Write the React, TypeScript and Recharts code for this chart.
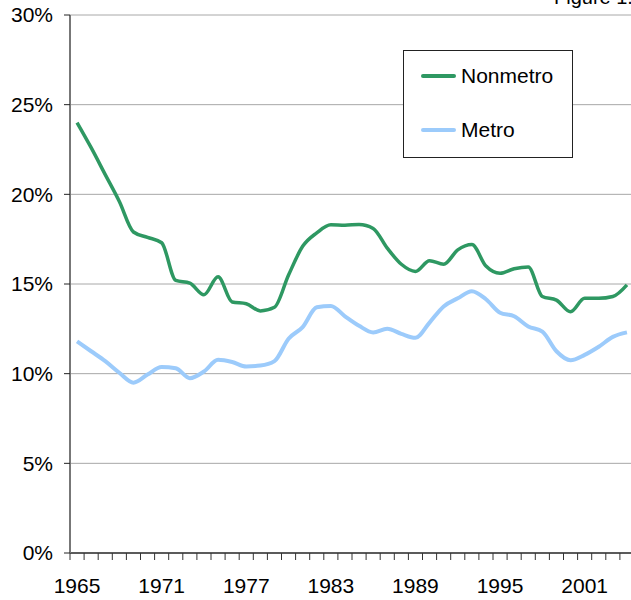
import { LineChart, Line, XAxis, YAxis, CartesianGrid } from "recharts";

const YEARS = [
  1965, 1966, 1967, 1968, 1969, 1970, 1971, 1972, 1973, 1974,
  1975, 1976, 1977, 1978, 1979, 1980, 1981, 1982, 1983, 1984,
  1985, 1986, 1987, 1988, 1989, 1990, 1991, 1992, 1993, 1994,
  1995, 1996, 1997, 1998, 1999, 2000, 2001, 2002, 2003, 2004,
];

const NONMETRO = [
  24.0, 22.6, 21.1, 19.6, 17.9, 17.6, 17.3, 15.2, 15.05, 14.4,
  15.4, 14.0, 13.9, 13.5, 13.7, 15.5, 17.1, 17.85, 18.3, 18.28,
  18.32, 18.1, 17.0, 16.1, 15.7, 16.3, 16.1, 16.9, 17.2, 16.0,
  15.6, 15.85, 15.95, 14.3, 14.1, 13.45, 14.2, 14.2, 14.3, 14.95,
];

const METRO = [
  11.8, 11.25, 10.7, 10.05, 9.5, 9.95, 10.37, 10.3, 9.75, 10.12,
  10.77, 10.65, 10.4, 10.45, 10.7, 11.95, 12.6, 13.7, 13.78, 13.2,
  12.67, 12.3, 12.5, 12.22, 12.0, 12.85, 13.75, 14.2, 14.6, 14.15,
  13.4, 13.2, 12.63, 12.35, 11.25, 10.75, 11.05, 11.5, 12.05, 12.3,
];

const Y_TICKS = [0, 5, 10, 15, 20, 25, 30];
const LABEL_YEARS = [1965, 1971, 1977, 1983, 1989, 1995, 2001];

const GREEN = "#2e9862";
const BLUE = "#9ccbfb";

const CHART_W = 660;
const CHART_H = 600;
const Y_AXIS_W = 70;
const MARGIN = { top: 15, right: 26, left: 0, bottom: 0 };
const HALF_BAND = (CHART_W - MARGIN.right - Y_AXIS_W) / YEARS.length / 2;

// tick lines sit between the years, the labels on the year itself
const BOUNDARIES = [...YEARS.map((y) => y - 0.5), YEARS[YEARS.length - 1] + 0.5];

const data = YEARS.map((year, i) => ({
  year,
  nonmetro: NONMETRO[i],
  metro: METRO[i],
}));

function YearTick(props: any) {
  const { x, y, payload } = props;
  const year = payload.value + 0.5;
  if (!LABEL_YEARS.includes(year)) return null;
  return (
    <text
      x={x + HALF_BAND}
      y={y}
      dy={31}
      textAnchor="middle"
      fontSize={21}
      fill="#000"
    >
      {year}
    </text>
  );
}

const legendItems = [
  { name: "Nonmetro", color: GREEN, width: 3.5 },
  { name: "Metro", color: BLUE, width: 4 },
];

export default function App() {
  return (
    <div
      style={{
        position: "fixed",
        left: 0,
        top: 0,
        width: 631,
        height: 600,
        overflow: "hidden",
        background: "#fff",
        fontFamily: "'Liberation Sans', Arial, Helvetica, sans-serif",
      }}
    >
      <LineChart width={CHART_W} height={CHART_H} data={data} margin={MARGIN}>
        <CartesianGrid vertical={false} stroke="#a8a8a8" strokeWidth={1} />
        <XAxis
          dataKey="year"
          type="number"
          domain={[1964.5, 2004.5]}
          ticks={BOUNDARIES}
          interval={0}
          height={47}
          tickSize={7}
          tick={<YearTick />}
          stroke="#333"
          axisLine={{ stroke: "#333", strokeWidth: 1.5 }}
          tickLine={{ stroke: "#333" }}
          allowDataOverflow
        />
        <YAxis
          domain={[0, 30]}
          ticks={Y_TICKS}
          width={Y_AXIS_W}
          tickSize={6}
          tickMargin={11}
          tickFormatter={(v: number) => `${v}%`}
          tick={{ fontSize: 21, fill: "#000" }}
          axisLine={{ stroke: "#777", strokeWidth: 2 }}
          tickLine={{ stroke: "#222" }}
        />
        <Line
          type="monotone"
          dataKey="metro"
          name="Metro"
          stroke={BLUE}
          strokeWidth={4}
          dot={false}
          isAnimationActive={false}
        />
        <Line
          type="monotone"
          dataKey="nonmetro"
          name="Nonmetro"
          stroke={GREEN}
          strokeWidth={3.5}
          dot={false}
          isAnimationActive={false}
        />
      </LineChart>

      <div
        style={{
          position: "absolute",
          left: 554,
          top: -13,
          fontSize: 20,
          lineHeight: 1,
          whiteSpace: "nowrap",
          color: "#000",
        }}
      >
        Figure 1.
      </div>

      <div
        style={{
          position: "absolute",
          left: 403,
          top: 50,
          width: 170,
          height: 108,
          boxSizing: "border-box",
          border: "1px solid #222",
          background: "#fff",
        }}
      >
        {legendItems.map((item, i) => (
          <div
            key={item.name}
            style={{
              position: "absolute",
              left: 17,
              top: 13 + i * 54,
              height: 24,
              display: "flex",
              alignItems: "center",
            }}
          >
            <div
              style={{
                width: 35,
                height: item.width,
                background: item.color,
                borderRadius: 2,
              }}
            />
            <span style={{ marginLeft: 5, fontSize: 21, color: "#000" }}>
              {item.name}
            </span>
          </div>
        ))}
      </div>
    </div>
  );
}
